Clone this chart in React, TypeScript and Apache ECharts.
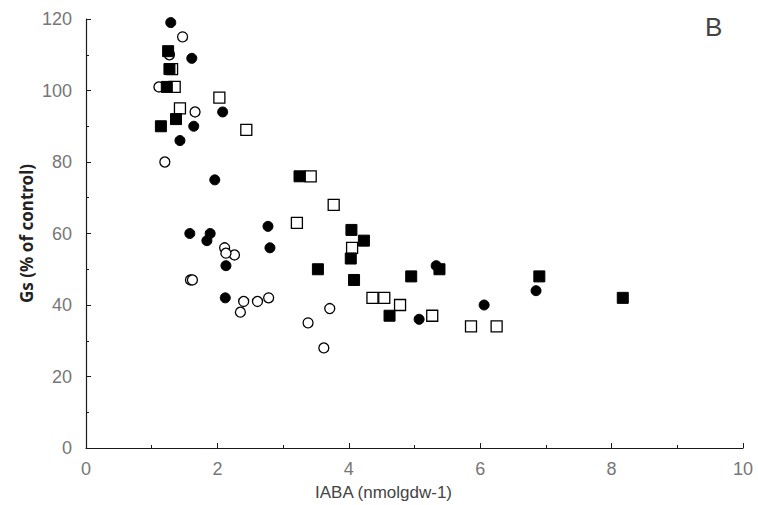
import React, { useEffect, useRef } from "react";
import * as echarts from "echarts";

const filledCircles: [number, number][] = [
  [1.29, 119], [1.61, 109], [2.08, 94], [1.64, 90], [1.43, 86], [1.96, 75],
  [2.77, 62], [1.58, 60], [1.89, 60], [1.84, 58], [2.8, 56], [2.13, 51],
  [2.12, 42], [5.33, 51], [6.85, 44], [6.06, 40], [5.07, 36],
];
const openCircles: [number, number][] = [
  [1.47, 115], [1.27, 110], [1.11, 101], [1.66, 94], [1.2, 80], [2.11, 56],
  [2.26, 54], [2.13, 54.5], [1.59, 47], [1.62, 47], [2.4, 41], [2.61, 41],
  [2.78, 42], [2.35, 38], [3.71, 39], [3.38, 35], [3.62, 28],
];
const filledSquares: [number, number][] = [
  [1.25, 111], [1.27, 106], [1.23, 101], [1.37, 92], [1.14, 90], [3.25, 76],
  [4.04, 61], [4.23, 58], [4.03, 53], [3.53, 50], [4.08, 47], [5.38, 50],
  [4.95, 48], [6.9, 48], [4.62, 37], [8.17, 42],
];
const openSquares: [number, number][] = [
  [1.31, 106], [1.35, 101], [2.03, 98], [1.43, 95], [2.44, 89], [3.42, 76],
  [3.77, 68], [3.21, 63], [4.05, 56], [4.36, 42], [4.54, 42], [4.78, 40],
  [5.27, 37], [5.86, 34], [6.25, 34],
];

const xTicks = [0, 2, 4, 6, 8, 10];
const yTicks = [0, 20, 40, 60, 80, 100, 120];

export default function App() {
  const ref = useRef<HTMLDivElement>(null);
  useEffect(() => {
    if (!ref.current) return;
    const chart = echarts.init(ref.current, undefined, { renderer: "svg" });
    const labelFont = "'Liberation Sans Narrow', 'Liberation Sans', Arial, sans-serif";
    const nameFont = "'Liberation Sans', Arial, sans-serif";
    const ink = "#000000";
    const mk = (data: [number, number][], symbol: string, size: number, filled: boolean) => ({
      type: "scatter",
      data,
      symbol,
      symbolSize: size,
      itemStyle: filled
        ? { color: ink, borderColor: ink, borderWidth: 1, opacity: 1 }
        : { color: "#ffffff", borderColor: ink, borderWidth: 1.3, opacity: 1 },
      z: filled ? 3 : 2,
    });
    chart.setOption({
      animation: false,
      backgroundColor: "#ffffff",
      grid: { left: 86, right: 15, top: 19, bottom: 57, containLabel: false, outerBoundsMode: "none" },
      xAxis: {
        type: "value",
        min: 0,
        max: 10,
        interval: 2,
        name: "IABA (nmolgdw-1)",
        nameLocation: "middle",
        nameGap: 36,
        nameMoveOverlap: false,
        nameTextStyle: { fontFamily: nameFont, fontSize: 17, color: "#444", padding: [0, 62, 0, 0] },
        axisLine: { show: true, lineStyle: { color: "#1a1a1a", width: 1.2 } },
        axisTick: { show: true, inside: true, length: 5, lineStyle: { color: "#1a1a1a" } },
        minorTick: { show: true, splitNumber: 2, length: 3, lineStyle: { color: "#1a1a1a" } },
        splitLine: { show: false },
        axisLabel: {
          margin: 12,
          fontFamily: labelFont,
          fontSize: 18,
          color: "#777",
          formatter: (v: number) => (xTicks.includes(v) ? String(v) : ""),
        },
      },
      yAxis: {
        type: "value",
        min: 0,
        max: 120,
        interval: 20,
        name: "Gs (% of control)",
        nameLocation: "middle",
        nameGap: 51,
        nameMoveOverlap: false,
        nameTextStyle: { fontFamily: "'Noto Sans', sans-serif", fontSize: 17, fontWeight: "bold", color: "#222" },
        axisLine: { show: true, lineStyle: { color: "#1a1a1a", width: 1.2 } },
        axisTick: { show: true, inside: true, length: 5, lineStyle: { color: "#1a1a1a" } },
        minorTick: { show: true, splitNumber: 2, length: 3, lineStyle: { color: "#1a1a1a" } },
        splitLine: { show: false },
        axisLabel: {
          margin: 14,
          fontFamily: labelFont,
          fontSize: 18,
          color: "#777",
          formatter: (v: number) => (yTicks.includes(v) ? String(v) : ""),
        },
      },
      graphic: [
        {
          type: "text",
          left: 705,
          top: 14,
          style: { text: "B", fontFamily: labelFont, fontSize: 26, fill: "#444" },
        },
      ],
      series: [
        mk(openCircles, "circle", 10, false),
        mk(openSquares, "rect", 11, false),
        mk(filledCircles, "circle", 10, true),
        mk(filledSquares, "rect", 11, true),
      ],
    });
    return () => chart.dispose();
  }, []);
  return <div ref={ref} style={{ width: 758, height: 505, position: "absolute", left: 0, top: 0 }} />;
}
